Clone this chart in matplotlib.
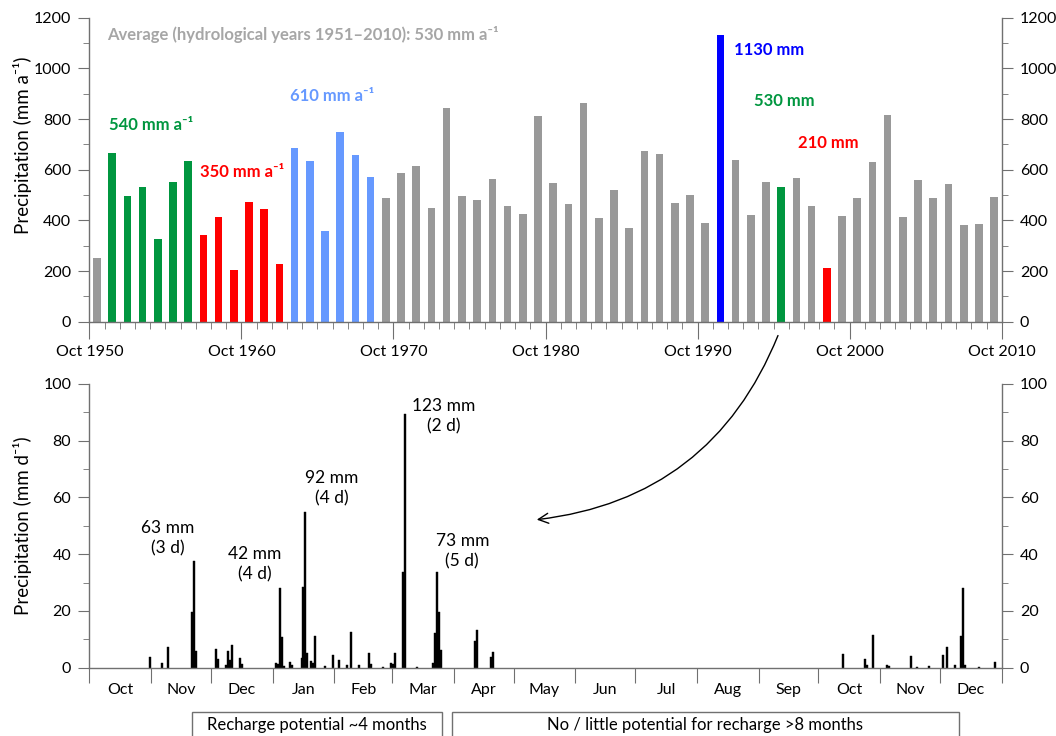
import numpy as np
import matplotlib
matplotlib.use("Agg")
import matplotlib.pyplot as plt
from matplotlib.patches import Rectangle
from matplotlib.ticker import MultipleLocator, FixedLocator, NullFormatter

plt.rcParams['font.family'] = ['Lato', 'DejaVu Sans']
plt.rcParams['font.size'] = 12

# annual precipitation, hydrological years 1951-2010 (Oct-Sep)
annual = [250, 667, 495, 533, 325, 553, 634, 341, 412, 204,
          474, 445, 226, 686, 634, 358, 749, 657, 571, 487,
          586, 614, 450, 845, 495, 479, 565, 456, 424, 813,
          549, 463, 863, 409, 520, 369, 673, 662, 470, 501,
          390, 1130, 640, 423, 553, 530, 567, 457, 210, 419,
          488, 632, 814, 415, 561, 488, 545, 382, 384, 491]
groups = (['grey'] + ['wet'] * 6 + ['dry'] * 6 + ['wet2'] * 6 + ['grey'] * 22
          + ['max'] + ['grey'] * 3 + ['wet'] + ['grey'] * 2 + ['dry'] + ['grey'] * 11)
group_color = {'grey': '#999999', 'wet': '#00963f', 'dry': '#ff0000',
               'wet2': '#6699ff', 'max': '#0000ff'}
decade_labels = ['Oct 1950', 'Oct 1960', 'Oct 1970', 'Oct 1980',
                 'Oct 1990', 'Oct 2000', 'Oct 2010']

# daily precipitation Oct 1995 - Dec 1996
daily_dates = ['1995-10-31', '1995-11-06', '1995-11-09', '1995-11-21', '1995-11-22',
               '1995-11-23', '1995-12-03', '1995-12-04', '1995-12-08', '1995-12-09',
               '1995-12-10', '1995-12-11', '1995-12-15', '1995-12-16', '1996-01-02',
               '1996-01-03', '1996-01-04', '1996-01-05', '1996-01-06', '1996-01-09',
               '1996-01-10', '1996-01-15', '1996-01-16', '1996-01-17', '1996-01-18',
               '1996-01-20', '1996-01-21', '1996-01-22', '1996-01-27', '1996-01-31',
               '1996-02-03', '1996-02-07', '1996-02-09', '1996-02-13', '1996-02-18',
               '1996-02-19', '1996-02-25', '1996-02-29', '1996-03-01', '1996-03-02',
               '1996-03-06', '1996-03-07', '1996-03-13', '1996-03-21', '1996-03-22',
               '1996-03-23', '1996-03-24', '1996-03-25', '1996-04-11', '1996-04-12',
               '1996-04-19', '1996-04-20', '1996-10-13', '1996-10-24', '1996-10-25',
               '1996-10-28', '1996-11-04', '1996-11-05', '1996-11-16', '1996-11-19',
               '1996-11-25', '1996-12-02', '1996-12-04', '1996-12-08', '1996-12-11',
               '1996-12-12', '1996-12-13', '1996-12-20', '1996-12-28']
daily_mm = [3.6, 1.8, 7.2, 19.5, 37.5,
            6.0, 6.6, 3.2, 0.8, 5.9,
            2.7, 7.9, 3.3, 1.3, 1.8,
            1.4, 28.0, 10.8, 0.5, 1.9,
            0.8, 3.3, 28.5, 55.0, 5.2,
            2.4, 1.8, 11.0, 0.7, 4.3,
            2.8, 1.1, 12.5, 0.9, 5.2,
            1.2, 0.2, 1.6, 1.2, 5.2,
            33.6, 89.4, 0.2, 1.5, 12.2,
            33.6, 19.5, 6.2, 9.4, 13.2,
            3.9, 5.5, 4.7, 3.1, 1.1,
            11.5, 0.9, 0.6, 4.2, 0.4,
            0.5, 4.3, 7.3, 1.1, 11.3,
            28.0, 0.9, 0.3, 2.1]
month_names = ['Oct', 'Nov', 'Dec', 'Jan', 'Feb', 'Mar', 'Apr', 'May',
               'Jun', 'Jul', 'Aug', 'Sep', 'Oct', 'Nov', 'Dec']

# events: (label, x in days, y in mm/d)
events = [('63 mm\n(3 d)', 39.5, 45.7), ('42 mm\n(4 d)', 83.2, 36.5),
          ('92 mm\n(4 d)', 121.7, 63.2), ('123 mm\n(2 d)', 177.7, 88.7),
          ('73 mm\n(5 d)', 187.2, 41.1)]

axis_grey = '#707070'

fig = plt.figure(figsize=(10.56, 7.36), dpi=100)
ax1 = fig.add_axes([0.0846, 0.5629, 0.864, 0.4131])
ax2 = fig.add_axes([0.0846, 0.0928, 0.864, 0.3855])


def style_axes(ax):
    ax.spines['top'].set_visible(False)
    for s in ['left', 'right', 'bottom']:
        ax.spines[s].set_color(axis_grey)
        ax.spines[s].set_linewidth(1)
    ax.tick_params(which='both', direction='out', color=axis_grey,
                   left=True, right=True, labelleft=True, labelright=True,
                   labelsize=11.5, pad=5)
    ax.tick_params(which='major', length=8)
    ax.tick_params(which='minor', length=4)


# --- annual bars ---
x = np.arange(len(annual)) + 0.5
ax1.bar(x, annual, width=0.5, color=[group_color[g] for g in groups])
ax1.set_xlim(0, 60)
ax1.set_ylim(0, 1200)
ax1.yaxis.set_major_locator(MultipleLocator(200))
ax1.yaxis.set_minor_locator(MultipleLocator(100))
ax1.set_xticks(np.arange(0, 61, 10))
ax1.set_xticklabels(decade_labels)
ax1.xaxis.set_minor_locator(MultipleLocator(1))
style_axes(ax1)
ax1.tick_params(axis='x', which='major', length=12)
ax1.tick_params(axis='x', which='minor', length=5)
ax1.set_ylabel('Precipitation (mm a⁻¹)', fontsize=13.5)
ax1.yaxis.set_label_coords(-0.063, 0.58)

bold = dict(fontsize=12, fontweight='bold', va='center', ha='left')
ax1.text(1.16, 1135, 'Average (hydrological years 1951–2010): 530 mm a⁻¹',
         color='#a6a6a6', **bold)
ax1.text(1.3, 776, '540 mm a⁻¹', color=group_color['wet'], **bold)
ax1.text(7.28, 591, '350 mm a⁻¹', color=group_color['dry'], **bold)
ax1.text(13.2, 891, '610 mm a⁻¹', color=group_color['wet2'], **bold)
ax1.text(42.4, 1073, f'{annual[41]} mm', color=group_color['max'], **bold)
ax1.text(43.7, 871, f'{annual[45]} mm', color=group_color['wet'], **bold)
ax1.text(46.6, 705, f'{annual[48]} mm', color=group_color['dry'], **bold)

# --- daily bars ---
start = np.datetime64('1995-10-01')
day = (np.array(daily_dates, dtype='datetime64[D]') - start).astype(int)
ax2.bar(day + 0.5, daily_mm, width=1.0, color='black',
        edgecolor='black', linewidth=0.3)

month_starts = (np.arange('1995-10', '1997-02', dtype='datetime64[M]')
                .astype('datetime64[D]') - start).astype(int)
ax2.set_xlim(month_starts[0], month_starts[-1])
ax2.set_ylim(0, 100)
ax2.yaxis.set_major_locator(MultipleLocator(20))
ax2.yaxis.set_minor_locator(MultipleLocator(10))
ax2.xaxis.set_major_locator(FixedLocator(month_starts))
ax2.xaxis.set_major_formatter(NullFormatter())
mid = (month_starts[:-1] + month_starts[1:]) / 2
ax2.set_xticks(mid, month_names, minor=True)
style_axes(ax2)
ax2.tick_params(axis='x', which='major', length=11)
ax2.tick_params(axis='x', which='minor', length=0, pad=11)
ax2.set_ylabel('Precipitation (mm d⁻¹)', fontsize=13.5)
ax2.yaxis.set_label_coords(-0.063, 0.5)

for label, ex, ey in events:
    ax2.text(ex, ey, label, ha='center', va='center', fontsize=12.5,
             linespacing=1.35)

# recharge period brackets below the month axis
trans = ax2.get_xaxis_transform()
for x0, x1, text in [(51.4, 177.0, 'Recharge potential ~4 months'),
                     (181.9, 436.6, 'No / little potential for recharge >8 months')]:
    ax2.add_patch(Rectangle((x0, -0.4), x1 - x0, 0.245, transform=trans,
                            fill=False, edgecolor=axis_grey, lw=1, clip_on=False))
    ax2.text((x0 + x1) / 2, -0.202, text, transform=trans, ha='center',
             va='center', fontsize=12)

# curved arrow from the 1996 bar down to the daily panel
ax2.annotate('', xy=(0.5057, 0.2935), xycoords='figure fraction',
             xytext=(0.7377, 0.5476), textcoords='figure fraction',
             arrowprops=dict(arrowstyle='->', color='black', lw=1,
                             connectionstyle='arc3,rad=-0.3',
                             mutation_scale=18),
             annotation_clip=False)

fig.savefig('out.png', dpi=100)
